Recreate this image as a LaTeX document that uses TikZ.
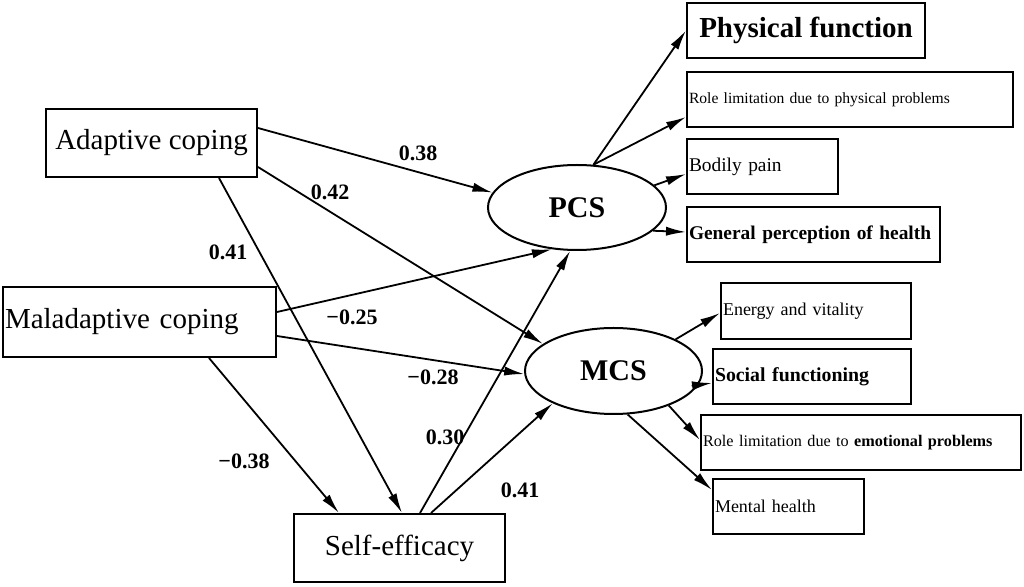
\documentclass[tikz,border=0pt]{standalone}
\usepackage{fontspec}
\usepackage{tikz}
\setmainfont{Liberation Serif}
\usetikzlibrary{positioning, arrows.meta, shapes.geometric}

\begin{document}
\begin{tikzpicture}[
  x=0.5pt, y=-0.5pt,
  >={Latex[length=10pt,width=4.6pt]},
  factor/.style={draw, line width=1pt, minimum height=34pt, inner xsep=1pt,
                 inner ysep=0pt, font=\fontsize{14.5}{16}\selectfont},
  latent/.style={draw, ellipse, line width=1pt, inner sep=0pt,
                 font=\fontsize{15}{17}\selectfont\bfseries},
  subscale/.style={draw, line width=1pt, minimum height=27.5pt, inner xsep=1pt,
                   inner ysep=0pt, align=left},
  coef/.style={font=\fontsize{11}{13}\selectfont\bfseries},
  effect/.style={->, line width=0.9pt},
]
  \useasboundingbox (0,0) rectangle (1024,587);

  % Predictors
  \node[factor, minimum width=105.5pt] (ac) at (151.5,143) {Adaptive coping};
  \node[factor, minimum height=35pt, text width=134.5pt, align=left]
    (mc) at (139.5,322) {Maladaptive coping};
  \node[factor, minimum width=105.5pt] (se) at (399.5,548) {Self-efficacy};

  % Summary scores
  \node[latent, minimum width=89pt, minimum height=42.5pt] (pcs) at (577,207.5) {PCS};
  \node[latent, minimum width=88.5pt, minimum height=43pt] (mcs) at (613.5,371) {MCS};

  % Physical subscales
  \node[subscale, minimum width=119pt, font=\fontsize{14.5}{16}\selectfont\bfseries]
    (pf) at (806,30.5) {Physical function};
  \node[subscale, text width=161pt, font=\fontsize{7.8}{9}\selectfont]
    (rp) at (850,99.5) {Role limitation due to physical problems};
  \node[subscale, text width=73.5pt, font=\fontsize{9.7}{11}\selectfont]
    (bp) at (762.5,166.5) {Bodily pain};
  \node[subscale, text width=124.5pt, font=\fontsize{9.7}{11}\selectfont\bfseries]
    (gp) at (813.5,234.5) {General perception of health};

  % Mental subscales
  \node[subscale, minimum height=28pt, text width=93pt, font=\fontsize{9}{10}\selectfont]
    (ev) at (816,311) {Energy and vitality};
  \node[subscale, text width=97pt, font=\fontsize{9.9}{11}\selectfont\bfseries]
    (sf) at (812,376.5) {Social functioning};
  \node[subscale, text width=158pt, font=\fontsize{8.1}{9.5}\selectfont]
    (re) at (861,442.5) {Role limitation due to \textbf{emotional problems}};
  \node[subscale, text width=73.5pt, font=\fontsize{9}{10}\selectfont]
    (mh) at (788.5,506.5) {Mental health};

  % Structural paths
  \draw[effect] ([yshift=7.5pt]ac.east) -- (pcs.170);
  \draw[effect] ([yshift=-12pt]ac.east) -- (mcs.159);
  \draw[effect] ([xshift=33.75pt]ac.south) -- ([xshift=1.25pt]se.north);
  \draw[effect] ([yshift=5pt]mc.east) -- (pcs.239);
  \draw[effect] ([yshift=-7pt]mc.east) -- (mcs.182);
  \draw[effect] ([xshift=34.75pt]mc.south) -- ([xshift=-30.25pt]se.north);
  \draw[effect] ([xshift=10.25pt]se.north) -- (pcs.261);
  \draw[effect] ([xshift=15.75pt]se.north) -- (mcs.208);

  % Measurement paths
  \draw[effect] (pcs.69) -- (pf.west);
  \draw[effect] (pcs.69) -- ([yshift=-8.75pt]rp.west);
  \draw[effect] (pcs.16) -- ([yshift=-3.75pt]bp.west);
  \draw[effect] (pcs.343) -- ([yshift=1.25pt]gp.west);
  \draw[effect] (mcs.27) -- ([yshift=-1pt]ev.west);
  \draw[effect] ([xshift=-3pt]mcs.350) -- ([yshift=-3.25pt]sf.west);
  \draw[effect] (mcs.328) -- ([yshift=1.25pt]re.west);
  \draw[effect] (mcs.288) -- ([yshift=8.25pt]mh.west);

  % Coefficients
  \node[coef] (b1) at (418,153) {0.38};
  \node[coef] (b2) at (330,192) {0.42};
  \node[coef] (b3) at (228,252) {0.41};
  \node[coef] (b4) at (352,317) {−0.25};
  \node[coef] (b5) at (433,377) {−0.28};
  \node[coef] (b6) at (244,461) {−0.38};
  \node[coef] (b7) at (445,437) {0.30};
  \node[coef] (b8) at (520,490) {0.41};
\end{tikzpicture}
\end{document}
